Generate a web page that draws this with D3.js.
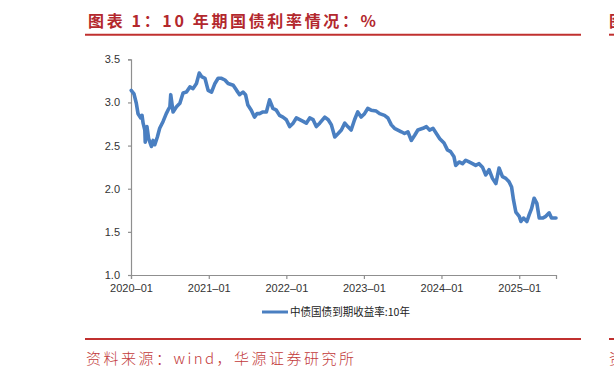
<!DOCTYPE html>
<html>
<head>
<meta charset="utf-8">
<script src="https://cdn.jsdelivr.net/npm/d3@7"></script>
<style>
  html, body { margin: 0; padding: 0; background: #fff; }
  svg { display: block; }
</style>
</head>
<body>
<svg id="chart" width="614" height="378"></svg>
<script>
'use strict';

// roughly every two weeks
var dates = [
  '2020-01-02','2020-01-15','2020-01-26','2020-02-03','2020-02-16','2020-02-22','2020-02-27','2020-03-06',
  '2020-03-08','2020-03-16','2020-03-24','2020-04-06','2020-04-14','2020-04-22','2020-05-04','2020-05-15',
  '2020-05-31','2020-06-15','2020-06-23','2020-07-02','2020-07-06','2020-07-17','2020-08-02','2020-08-18',
  '2020-09-02','2020-09-18','2020-10-04','2020-10-19','2020-11-04','2020-11-17','2020-11-28','2020-12-14',
  '2020-12-29','2021-01-14','2021-01-30','2021-02-14','2021-03-02','2021-03-18','2021-04-02','2021-04-26',
  '2021-05-12','2021-05-26','2021-06-11','2021-06-23','2021-07-04','2021-07-20','2021-08-04','2021-08-16',
  '2021-08-28','2021-09-13','2021-09-29','2021-10-14','2021-10-30','2021-11-15','2021-11-30','2021-12-16',
  '2022-01-01','2022-01-17','2022-02-02','2022-02-17','2022-03-05','2022-03-21','2022-04-05','2022-04-21',
  '2022-05-07','2022-05-22','2022-06-07','2022-07-01','2022-07-17','2022-08-01','2022-08-17','2022-09-02',
  '2022-09-17','2022-10-03','2022-10-17','2022-11-02','2022-11-18','2022-12-03','2022-12-19','2023-01-04',
  '2023-01-19','2023-02-04','2023-02-28','2023-03-16','2023-04-08','2023-04-24','2023-05-10','2023-05-25',
  '2023-06-10','2023-06-26','2023-07-11','2023-07-27','2023-08-12','2023-08-28','2023-09-12','2023-10-06',
  '2023-10-22','2023-11-06','2023-11-22','2023-12-08','2023-12-24','2024-01-13','2024-01-29','2024-02-13',
  '2024-02-29','2024-03-08','2024-03-24','2024-04-09','2024-04-24','2024-05-10','2024-05-26','2024-06-10',
  '2024-06-26','2024-07-12','2024-07-27','2024-08-12','2024-08-28','2024-09-13','2024-09-28','2024-10-14',
  '2024-10-30','2024-11-14','2024-11-26','2024-12-05','2024-12-16','2025-01-01','2025-01-09','2025-01-21',
  '2025-02-06','2025-02-17','2025-02-28','2025-03-12','2025-03-25','2025-04-05','2025-04-21','2025-05-06',
  '2025-05-22','2025-06-02','2025-06-23'
];

var yields = [
  3.14, 3.10, 2.99, 2.87, 2.82, 2.85, 2.76, 2.68,
  2.54, 2.72, 2.58, 2.49, 2.56, 2.51, 2.60, 2.70,
  2.78, 2.87, 2.91, 2.95, 3.09, 2.89, 2.95, 2.99,
  3.11, 3.12, 3.18, 3.16, 3.22, 3.34, 3.30, 3.28,
  3.14, 3.12, 3.22, 3.28, 3.28, 3.26, 3.22, 3.20,
  3.14, 3.09, 3.12, 3.09, 2.97, 2.91, 2.83, 2.87,
  2.87, 2.89, 2.89, 3.03, 2.93, 2.91, 2.85, 2.83,
  2.80, 2.72, 2.76, 2.82, 2.80, 2.78, 2.76, 2.82,
  2.80, 2.72, 2.76, 2.83, 2.80, 2.74, 2.60, 2.64,
  2.68, 2.76, 2.72, 2.68, 2.80, 2.89, 2.83, 2.87,
  2.93, 2.91, 2.90, 2.87, 2.85, 2.82, 2.74, 2.70,
  2.68, 2.66, 2.64, 2.66, 2.56, 2.62, 2.68, 2.70,
  2.72, 2.68, 2.70, 2.64, 2.58, 2.53, 2.45, 2.43,
  2.37, 2.27, 2.31, 2.29, 2.33, 2.31, 2.29, 2.27,
  2.29, 2.25, 2.16, 2.22, 2.12, 2.06, 2.24, 2.14,
  2.12, 2.08, 2.02, 1.87, 1.73, 1.68, 1.62, 1.66,
  1.62, 1.70, 1.77, 1.89, 1.83, 1.66, 1.66, 1.68,
  1.72, 1.66, 1.66
];

var yTicks = [1.0, 1.5, 2.0, 2.5, 3.0, 3.5];
var xTicks = ['2020-01', '2021-01', '2022-01', '2023-01', '2024-01', '2025-01'];
var seriesName = '中债国债到期收益率:10年';
var titleText = '图表 1：10 年期国债利率情况：%';
var sourceText = '资料来源：wind，华源证券研究所';

var parseDay = d3.timeParse('%Y-%m-%d');
var parseMonth = d3.timeParse('%Y-%m');

var data = dates.map(function(d, i) {
  return { date: parseDay(d), value: yields[i] };
});

var svg = d3.select('#chart');
var red = '#c0302f';
var blue = '#4a7fc1';
var axisGrey = '#8f8f8f';
var tickFont = '"Liberation Sans", Arial, sans-serif';
var cjkFont = '"Noto Sans CJK SC", "Noto Sans", sans-serif';

svg.append('rect').attr('width', 614).attr('height', 378).attr('fill', '#fff');

// header
svg.append('text')
  .attr('x', 88).attr('y', 27)
  .attr('textLength', 288).attr('lengthAdjust', 'spacing')
  .style('font-family', cjkFont).style('font-size', '16px').style('font-weight', 700)
  .attr('fill', '#b3282d')
  .text(titleText);
svg.append('line').attr('x1', 85).attr('x2', 581).attr('y1', 34.7).attr('y2', 34.7)
  .attr('stroke', red).attr('stroke-width', 2);
// next column peeking in at the right edge
svg.append('text').attr('x', 609).attr('y', 27)
  .style('font-family', cjkFont).style('font-size', '16px').style('font-weight', 700)
  .attr('fill', '#b3282d').text('图');
svg.append('line').attr('x1', 609).attr('x2', 614).attr('y1', 34.7).attr('y2', 34.7)
  .attr('stroke', red).attr('stroke-width', 2);

// scales
var x = d3.scaleTime()
  .domain([parseDay('2020-01-01'), data[data.length - 1].date])
  .range([131, 556]);
var y = d3.scaleLinear().domain([1, 3.5]).range([275, 59.3]);

// y axis
var yAxis = svg.append('g')
  .attr('transform', 'translate(131,0)')
  .call(d3.axisLeft(y).tickValues(yTicks).tickFormat(d3.format('.1f'))
    .tickSizeOuter(0).tickSize(3).tickPadding(8));

// x axis
var xAxis = svg.append('g')
  .attr('transform', 'translate(0,275)')
  .call(d3.axisBottom(x).tickValues(xTicks.map(parseMonth))
    .tickFormat(d3.timeFormat('%Y–%m'))
    .tickSizeOuter(0).tickSize(4).tickPadding(5));

[yAxis, xAxis].forEach(function(ax) {
  ax.select('.domain').attr('stroke', axisGrey).attr('stroke-width', 1.2);
  ax.selectAll('.tick line').attr('stroke', axisGrey).attr('stroke-width', 1.2);
  ax.selectAll('.tick text')
    .attr('fill', '#333')
    .style('font-family', tickFont).style('font-size', '11px');
});

// series
var line = d3.line()
  .x(function(d) { return x(d.date); })
  .y(function(d) { return y(d.value); });

svg.append('path')
  .datum(data)
  .attr('d', line)
  .attr('fill', 'none')
  .attr('stroke', blue)
  .attr('stroke-width', 3.6)
  .attr('stroke-linejoin', 'round')
  .attr('stroke-linecap', 'round');

// legend
var legend = svg.append('g').attr('transform', 'translate(262,312)');
legend.append('line').attr('x1', 0).attr('x2', 26).attr('y1', 0).attr('y2', 0)
  .attr('stroke', blue).attr('stroke-width', 3);
legend.append('text').attr('x', 28).attr('y', 0).attr('dy', '0.36em')
  .attr('textLength', 120).attr('lengthAdjust', 'spacingAndGlyphs')
  .style('font-family', cjkFont).style('font-size', '11px').attr('fill', '#222')
  .text(seriesName);

// footer
svg.append('line').attr('x1', 85).attr('x2', 581).attr('y1', 339).attr('y2', 339)
  .attr('stroke', red).attr('stroke-width', 2);
svg.append('line').attr('x1', 609).attr('x2', 614).attr('y1', 339).attr('y2', 339)
  .attr('stroke', red).attr('stroke-width', 2);
svg.append('text')
  .attr('x', 86).attr('y', 364)
  .attr('textLength', 268).attr('lengthAdjust', 'spacing')
  .style('font-family', cjkFont).style('font-size', '15px').style('font-weight', 300)
  .attr('fill', '#c23a3a')
  .text(sourceText);
svg.append('text').attr('x', 609).attr('y', 364)
  .style('font-family', cjkFont).style('font-size', '15px').style('font-weight', 300)
  .attr('fill', '#c23a3a').text('资');
</script>
</body>
</html>
